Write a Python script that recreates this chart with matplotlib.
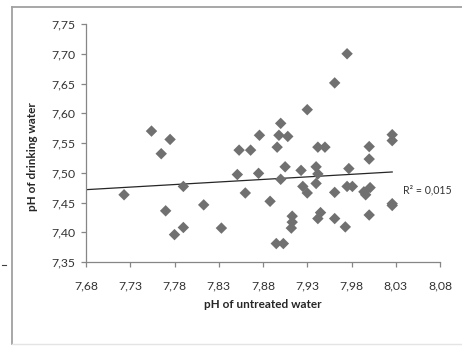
import numpy as np
import matplotlib
matplotlib.use("Agg")
import matplotlib.pyplot as plt
from matplotlib.lines import Line2D
from matplotlib.ticker import FuncFormatter

plt.rcParams['font.family'] = ['Lato', 'DejaVu Sans']

# pH of untreated water (x) and drinking water (y)
ph_untreated = [7.723, 7.754, 7.765, 7.775, 7.770, 7.780, 7.790, 7.790, 7.813, 7.833,
                7.851, 7.853, 7.860, 7.866, 7.875, 7.876, 7.888, 7.895, 7.903, 7.896,
                7.898, 7.900, 7.908, 7.900, 7.905, 7.913, 7.913, 7.912, 7.923, 7.925,
                7.930, 7.930, 7.940, 7.942, 7.940, 7.942, 7.950, 7.945, 7.942, 7.961,
                7.961, 7.961, 7.973, 7.975, 7.975, 7.981, 7.977, 7.994, 7.996, 8.001,
                8.000, 8.000, 8.000, 8.026, 8.026, 8.026, 8.026]
ph_drinking = [7.463, 7.570, 7.532, 7.556, 7.436, 7.396, 7.408, 7.477, 7.446, 7.407,
               7.497, 7.538, 7.466, 7.538, 7.499, 7.563, 7.452, 7.381, 7.381, 7.543,
               7.563, 7.583, 7.561, 7.489, 7.510, 7.427, 7.417, 7.407, 7.504, 7.477,
               7.466, 7.606, 7.510, 7.498, 7.482, 7.543, 7.543, 7.433, 7.423, 7.651,
               7.467, 7.423, 7.409, 7.700, 7.477, 7.477, 7.507, 7.468, 7.463, 7.475,
               7.544, 7.523, 7.429, 7.564, 7.554, 7.448, 7.445]

x_ticks = [7.68, 7.73, 7.78, 7.83, 7.88, 7.93, 7.98, 8.03, 8.08]
y_ticks = [7.35, 7.40, 7.45, 7.50, 7.55, 7.60, 7.65, 7.70, 7.75]
r2_label = "R² = 0,015"

W, H = 462, 346
fig = plt.figure(figsize=(W / 100, H / 100), dpi=100)
ax = fig.add_axes([86 / W, 1 - 262 / H, (440 - 86) / W, (262 - 24) / H])

x = np.array(ph_untreated)
y = np.array(ph_drinking)

ax.scatter(x, y, marker='D', s=34, color='#707070', edgecolors='none', zorder=3)

# linear trend
k, b = np.polyfit(x, y, 1)
xt = np.array([x_ticks[0], x.max()])
ax.plot(xt, k * xt + b, color='#262626', lw=0.9, zorder=2)

ax.set_xlim(x_ticks[0], x_ticks[-1])
ax.set_ylim(y_ticks[0], y_ticks[-1])
ax.set_xticks(x_ticks)
ax.set_yticks(y_ticks)
fmt = FuncFormatter(lambda v, p: f"{v:.2f}".replace('.', ','))
ax.xaxis.set_major_formatter(fmt)
ax.yaxis.set_major_formatter(fmt)

for s in ['top', 'right']:
    ax.spines[s].set_visible(False)
for s in ['left', 'bottom']:
    ax.spines[s].set_color('#868686')
    ax.spines[s].set_linewidth(0.9)
ax.tick_params(axis='both', direction='out', color='#868686', length=3.5,
               width=0.9, labelsize=8.8, labelcolor='#333333')
ax.tick_params(axis='x', pad=10)
ax.tick_params(axis='y', pad=4)

fig.text(403 / W, 1 - 190 / H, r2_label, fontsize=7.6, color='#333333',
         va='center', ha='left')

fig.text(263 / W, 1 - 305 / H, "pH of untreated water", ha='center', va='center',
         fontsize=8.5, fontweight='bold', color='#262626')
fig.text(32 / W, 1 - 157 / H, "pH of drinking water", ha='center', va='center',
         rotation=90, fontsize=8.5, fontweight='bold', color='#262626')

# frame of the chart area
fig.add_artist(Line2D([12 / W, 12 / W], [1 - 7 / H, 1 - 344 / H], color='#a0a0a0', lw=1.3))
fig.add_artist(Line2D([12 / W, 1], [1 - 7 / H, 1 - 7 / H], color='#a0a0a0', lw=1.3))
fig.add_artist(Line2D([12 / W, 1], [1 - 344 / H, 1 - 344 / H], color='#e4e4e4', lw=1.0))
fig.add_artist(Line2D([2 / W, 6 / W], [1 - 265 / H, 1 - 265 / H], color='#404040', lw=0.8))

fig.savefig("out.png", dpi=100)
